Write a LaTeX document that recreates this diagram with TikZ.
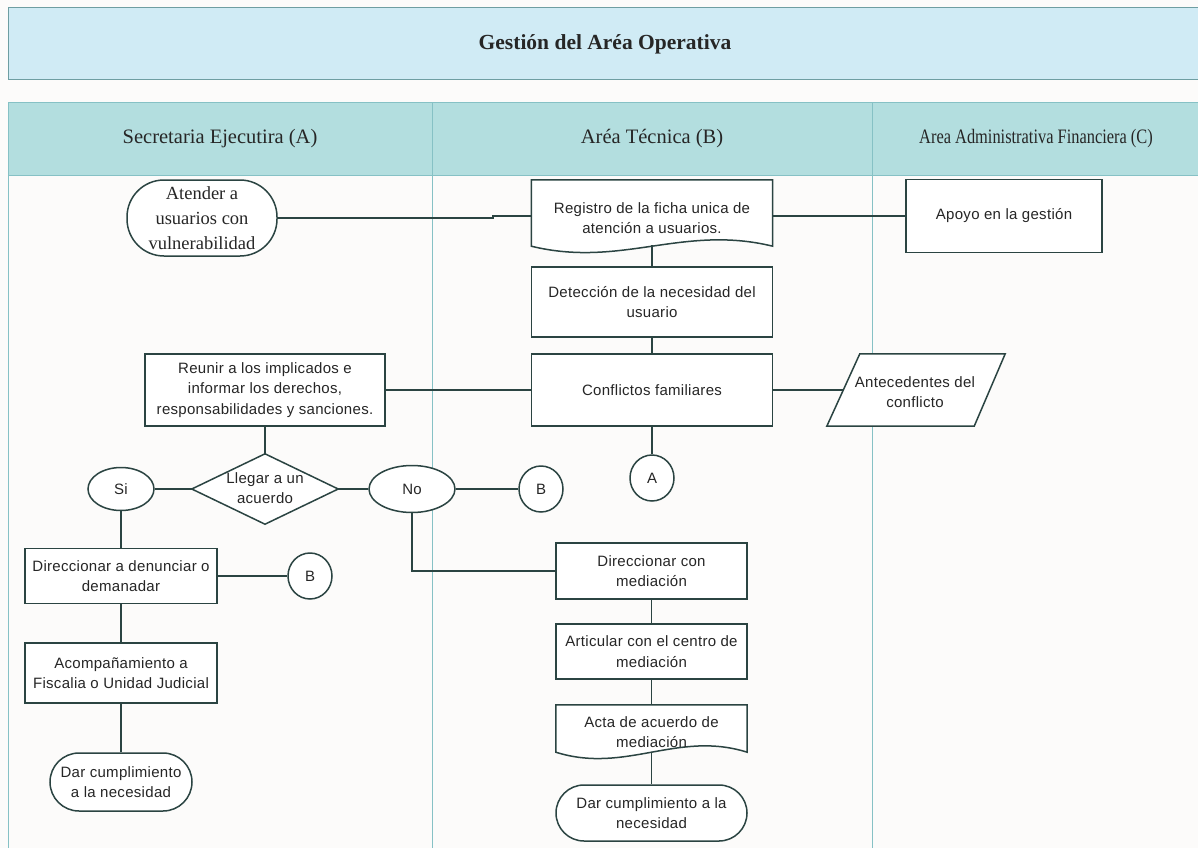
\documentclass[tikz,border=0pt]{standalone}
\usepackage{fontspec}
\usepackage{graphicx}
\setmainfont{Liberation Serif}
\newfontfamily\bodyfont[LetterSpace=2]{Liberation Sans}
\newfontfamily\serifnode{Liberation Serif}
\usetikzlibrary{calc,shapes.geometric}

\definecolor{bgpage}{HTML}{FCFBFA}
\definecolor{titlefill}{HTML}{D0EBF5}
\definecolor{headfill}{HTML}{B3DEDF}
\definecolor{laneline}{HTML}{86C1C5}
\definecolor{frameline}{HTML}{6E9EA2}
\definecolor{ink}{HTML}{2B4442}
\definecolor{txt}{HTML}{262626}

\tikzset{
  shapeline/.style={draw=ink, line width=1.5pt, fill=white},
  conn/.style={draw=ink, line width=1.5pt},
  textonly/.style={text=txt, align=center, inner sep=0pt,
    font=\bodyfont\fontsize{15}{20.5}\selectfont},
  procbox/.style={shapeline, rectangle, textonly},
  termbox/.style={shapeline, rectangle, textonly},
  ovalbox/.style={shapeline, ellipse, textonly},
  connbox/.style={shapeline, ellipse, textonly, minimum width=44pt, minimum height=46pt},
  lane/.style={draw=laneline, line width=1pt},
  lanetitle/.style={font=\fontsize{20.5}{23}\selectfont, text=txt},
}

\begin{document}
\begin{tikzpicture}[x=1pt, y=-1pt]
  % page
  \clip (0,0) rectangle (1198,848);
  \fill[bgpage] (0,0) rectangle (1198,848);

  % title band
  \draw[fill=titlefill, draw=frameline, line width=1pt] (8,8) rectangle (1210,80);
  \node[font=\bfseries\fontsize{21.5}{24}\selectfont, text=txt] (title) at (605,44) {Gestión del Aréa Operativa};

  % lane headers
  \draw[fill=headfill, draw=laneline, line width=1pt] (8,103) rectangle (1210,175);
  \node[lanetitle] (laneA) at (220,139) {Secretaria Ejecutira (A)};
  \node[lanetitle] (laneB) at (652,139) {Aréa Técnica (B)};
  \node[lanetitle] (laneC) at (1036,139) {\scalebox{0.8}[1]{Area Administrativa Financiera (C)}};

  % lane separators
  \draw[lane] (8,175) -- (8,848);
  \draw[lane] (432,103) -- (432,848);
  \draw[lane] (872,103) -- (872,848);
  \draw[lane] (8,175) -- (1210,175);

  \coordinate (jog) at (493,218);

  % ---------- nodes ----------
  % start terminal
  \node[termbox, rounded corners=37pt, minimum width=150pt, minimum height=76pt,
        font=\serifnode\fontsize{18.5}{25}\selectfont] (aten) at (202,218)
        {Atender a\\usuarios con\\vulnerabilidad};

  % document: registration sheet
  \node[textonly, minimum width=241pt, minimum height=66pt] (reg) at (652,213) {};
  \draw[shapeline] (reg.north west) -- (reg.north east) -- (reg.south east)
     .. controls ($(reg.south east)+(-90,-22)$) and ($(reg.south west)+(90,22)$) .. (reg.south west) -- cycle;
  \node[textonly] (regtext) at (652,218) {Registro de la ficha unica de\\atención a usuarios.};
  \coordinate (regb) at ($(reg.south)+(0,-1)$);

  \node[procbox, minimum width=196pt, minimum height=73pt] (apo) at (1004,216) {Apoyo en la gestión};
  \node[procbox, minimum width=241pt, minimum height=70pt] (det) at (652,302) {Detección de la necesidad del\\usuario};
  \node[procbox, minimum width=241pt, minimum height=72pt] (conf) at (652,390) {Conflictos familiares};
  \node[procbox, minimum width=240pt, minimum height=72pt] (reu) at (265,390)
        {Reunir a los implicados e\\informar los derechos,\\responsabilidades y sanciones.};

  % data: parallelogram
  \node[textonly, minimum width=133pt, minimum height=72pt] (ant) at (910,390) {};
  \draw[shapeline] ($(ant.north west)+(16.5,0)$) -- ($(ant.north east)+(28.5,0)$)
     -- ($(ant.south east)+(-2.5,0)$) -- ($(ant.south west)+(-16.5,0)$) -- cycle;
  \node[textonly] (anttext) at (915,392) {Antecedentes del\\conflicto};

  \node[connbox] (cA) at (652,478) {A};

  % decision
  \node[textonly, minimum width=146pt, minimum height=70pt] (dec) at (265,489) {};
  \draw[shapeline] (dec.north) -- (dec.east) -- (dec.south) -- (dec.west) -- cycle;
  \node[textonly] (dectext) at (265,488) {Llegar a un\\acuerdo};

  \node[ovalbox, minimum width=66pt, minimum height=43pt] (si) at (121,489) {Si};
  \node[ovalbox, minimum width=86pt, minimum height=47pt] (no) at (412,489) {No};
  \node[connbox] (cB1) at (541,489) {B};

  \node[procbox, minimum width=192pt, minimum height=55pt] (den) at (121,576) {Direccionar a denunciar o\\demanadar};
  \node[connbox] (cB2) at (310,576) {B};
  \node[procbox, minimum width=192pt, minimum height=60pt] (aco) at (121,673) {Acompañamiento a\\Fiscalia o Unidad Judicial};
  \node[termbox, rounded corners=29pt, minimum width=142pt, minimum height=58pt] (dar1) at (121,782)
        {Dar cumplimiento\\a la necesidad};

  \node[procbox, minimum width=191pt, minimum height=56pt] (med) at (651.5,571) {Direccionar con\\mediación};
  \node[procbox, minimum width=191pt, minimum height=55pt] (art) at (651.5,651.5) {Articular con el centro de\\mediación};

  % document: mediation record
  \node[textonly, minimum width=191pt, minimum height=47pt] (acta) at (651.5,728.5) {};
  \draw[shapeline] (acta.north west) -- (acta.north east) -- (acta.south east)
     .. controls ($(acta.south east)+(-70,-22)$) and ($(acta.south west)+(70,22)$) .. (acta.south west) -- cycle;
  \node[textonly] (actatext) at (651.5,732) {Acta de acuerdo de\\mediación};
  \coordinate (actab) at ($(acta.south)+(0,1)$);

  \node[termbox, rounded corners=28pt, minimum width=191pt, minimum height=56pt] (dar2) at (651.5,813)
        {Dar cumplimiento a la\\necesidad};

  % ---------- connectors ----------
  \draw[conn] (aten.east) -- (jog) |- (apo.west -| reg.west);
  \draw[conn] (apo.west -| reg.east) -- (apo.west);
  \draw[conn] (regb) -- (det.north);
  \draw[conn] (det.south) -- (conf.north);
  \draw[conn] (conf.west) -- (reu.east);
  \draw[conn] (conf.east) -- (ant.west);
  \draw[conn] (conf.south) -- (cA.north);
  \draw[conn] (reu.south) -- (dec.north);
  \draw[conn] (dec.west) -- (si.east);
  \draw[conn] (dec.east) -- (no.west);
  \draw[conn] (no.east) -- (cB1.west);
  \draw[conn] (si.south) -- (den.north);
  \draw[conn] (den.east) -- (cB2.west);
  \draw[conn] (den.south) -- (aco.north);
  \draw[conn] (aco.south) -- (dar1.north);
  \draw[conn] (no.south) |- (med.west);
  \draw[conn] (med.south) -- (art.north);
  \draw[conn] (art.south) -- (acta.north);
  \draw[conn] (actab) -- (dar2.north);
\end{tikzpicture}
\end{document}
